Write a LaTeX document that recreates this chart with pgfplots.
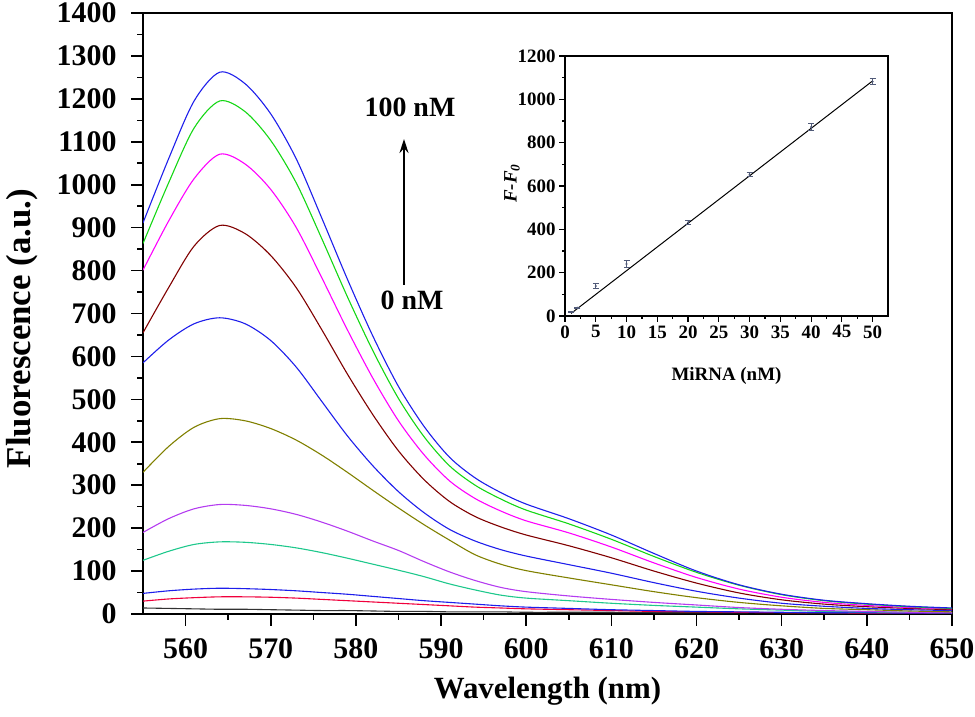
\documentclass[border=0pt]{standalone}
\usepackage{fontspec}
\setmainfont{Liberation Serif}
\usepackage{pgfplots}
\usepackage{pgfplotstable}
\pgfplotsset{compat=1.18}
\usetikzlibrary{arrows.meta}

\definecolor{cblue}{RGB}{30,30,235}
\definecolor{cgreen}{RGB}{20,215,20}
\definecolor{cmag}{RGB}{255,0,255}
\definecolor{cbrown}{RGB}{128,0,0}
\definecolor{colive}{RGB}{128,128,0}
\definecolor{cviolet}{RGB}{180,60,240}
\definecolor{cteal}{RGB}{30,200,140}
\definecolor{cred}{RGB}{240,0,60}
\definecolor{cblack}{RGB}{50,50,50}
\definecolor{errc}{RGB}{80,90,120}

% emission spectra, one column per concentration (low to high: c11 ... c1)
\pgfplotstableread{
x   c1   c2   c3   c4  c5  c6  c7  c8  c9 c10 c11
555 911  863  801  655 585 330 190 125 48 30 14
558 1060 1004 915  760 638 390 222 146 54 35 13
561 1195 1132 1014 857 676 435 245 162 58 38 12
564 1262 1195 1071 905 690 455 255 168 60 40 11
567 1235 1170 1048 886 676 450 253 167 59 40 11
570 1165 1103 989  835 637 432 245 162 57 39 10
573 1060 1004 900  760 575 405 232 154 54 37 9
576 922  874  783  662 495 370 214 143 50 34 8
579 780  739  662  559 415 330 193 130 46 31 8
582 647  613  549  464 345 288 170 116 41 28 7
585 530  502  450  380 285 247 148 102 36 25 6
588 437  413  371  313 236 208 122 87  31 22 6
591 365  345  310  262 197 172 98  70  27 19 5
594 317  300  269  227 170 138 78  56  23 16 5
597 283  268  240  203 150 116 62  44  19 14 5
600 256  242  217  184 135 101 52  37  16 12 4
605 222  210  189  159 115 84  42  31  13 10 4
610 184  174  156  131 95  68  34  25  10 8  4
615 141  134  119  100 73  52  27  20  8  6  3
620 100  97   85   72  53  38  21  16  6  5  3
625 68   67   58   49  37  27  15  12  5  4  3
630 46   45   39   33  25  19  11  9   4  3  3
635 32   31   27   23  18  13  8   6   3  3  2
640 24   23   20   17  13  10  6   5   3  2  2
645 18   17   15   13  10  7   4   4   2  2  2
650 14   13   12   10  8   5   3   3   2  2  2
}\spectra

% calibration: F-F0 vs miRNA concentration
\pgfplotstableread{
x  y    e
1  18   3
2  38   3
5  138  12
10 240  15
20 432  10
30 654  10
40 872  15
50 1082 15
}\calib

\begin{document}
\begin{tikzpicture}[x=1bp,y=1bp]
\path[use as bounding box] (0,0) rectangle (975,717);

\begin{axis}[at={(143bp,103bp)}, anchor=south west, scale only axis,
  width=809bp, height=601bp,
  xmin=555, xmax=650, ymin=0, ymax=1400,
  xtick={560,570,...,650}, ytick={0,100,...,1400},
  minor x tick num=1, minor y tick num=1,
  tick align=outside, tick pos=left,
  major tick length=12bp, minor tick length=6bp,
  axis line style={line width=1.6bp},
  every tick/.style={line width=1.6bp, black},
  /pgf/number format/assume math mode=true, /pgf/number format/1000 sep={},
  tick label style={font=\bfseries\fontsize{30}{30}\selectfont},
  xticklabel style={yshift=-9bp},
  yticklabel style={xshift=-11bp},
  xlabel={Wavelength (nm)}, ylabel={Fluorescence (a.u.)},
  xlabel style={at={(axis description cs:0.5,-0.128)}, anchor=center,
    font=\bfseries\fontsize{31}{31}\selectfont},
  ylabel style={at={(axis description cs:-0.150,0.475)}, anchor=center,
    font=\bfseries\fontsize{35}{35}\selectfont},
  every axis plot/.append style={line width=1.1bp, smooth, mark=none}]
\addplot[cblack]  table[y=c11] {\spectra};
\addplot[cred]    table[y=c10] {\spectra};
\addplot[cblue]   table[y=c9]  {\spectra};
\addplot[cteal]   table[y=c8]  {\spectra};
\addplot[cviolet] table[y=c7]  {\spectra};
\addplot[colive]  table[y=c6]  {\spectra};
\addplot[cblue]   table[y=c5]  {\spectra};
\addplot[cbrown]  table[y=c4]  {\spectra};
\addplot[cmag]    table[y=c3]  {\spectra};
\addplot[cgreen]  table[y=c2]  {\spectra};
\addplot[cblue]   table[y=c1]  {\spectra};
\end{axis}

\node[font=\bfseries\fontsize{28}{28}\selectfont] at (410,610) {100 nM};
\draw[line width=1.6bp, -{Stealth[length=14bp,width=9bp]}] (404,432) -- (404,578);
\node[font=\bfseries\fontsize{28}{28}\selectfont] at (412,417) {0 nM};

\begin{axis}[at={(565bp,401bp)}, anchor=south west, scale only axis,
  width=323bp, height=260bp,
  xmin=0, xmax=52.5, ymin=0, ymax=1200,
  xtick={0,5,...,50}, ytick={0,200,...,1200},
  minor x tick num=1, minor y tick num=1,
  tick align=outside, tick pos=left,
  major tick length=6bp, minor tick length=3bp,
  axis line style={line width=1.2bp},
  every tick/.style={line width=1.2bp, black},
  /pgf/number format/assume math mode=true, /pgf/number format/1000 sep={},
  tick label style={font=\bfseries\fontsize{19}{19}\selectfont},
  xlabel={MiRNA (nM)},
  ylabel={\textbf{\textit{F-F}}\textsubscript{\textbf{\textit{0}}}},
  label style={font=\bfseries\fontsize{19}{19}\selectfont},
  xlabel style={at={(axis description cs:0.5,-0.231)}, anchor=center},
  ylabel style={at={(axis description cs:-0.164,0.51)}, anchor=center}]
\addplot[black, line width=1bp, mark=none] coordinates {(1,12) (50,1085)};
\addplot[errc, only marks, mark=*, mark size=0.8bp,
  error bars/.cd, y dir=both, y explicit,
  error bar style={line width=0.9bp, errc}, error mark options={rotate=90, mark size=3bp, line width=0.9bp, errc}]
  table[x=x, y=y, y error=e] {\calib};
\end{axis}
\end{tikzpicture}
\end{document}
